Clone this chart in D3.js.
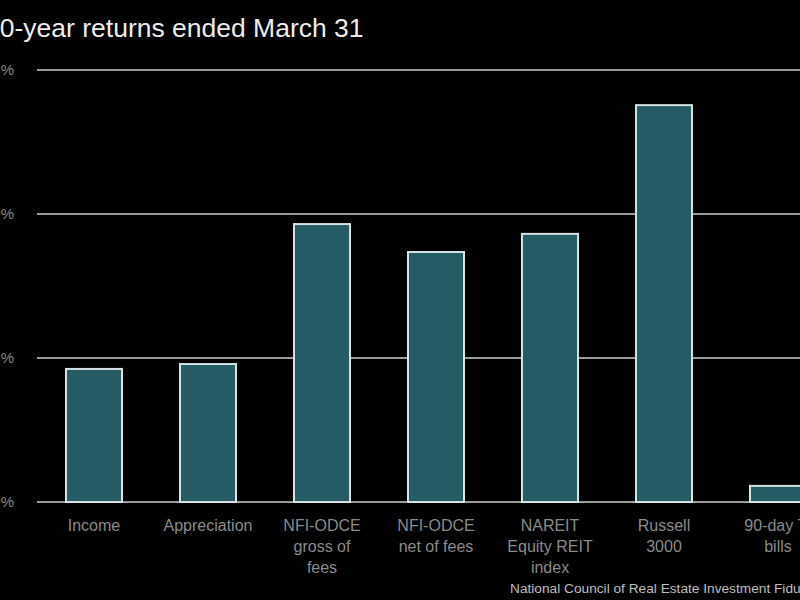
<!DOCTYPE html>
<html><head><meta charset="utf-8">
<script src="https://cdn.jsdelivr.net/npm/d3@7"></script>
<style>body{margin:0;background:#000;}svg{display:block;}</style>
</head><body>
<script>
const title = "10-year returns ended March 31";
const categories = [
  ["Income"],
  ["Appreciation"],
  ["NFI-ODCE", "gross of", "fees"],
  ["NFI-ODCE", "net of fees"],
  ["NAREIT", "Equity REIT", "index"],
  ["Russell", "3000"],
  ["90-day T-", "bills"]
];
const values = [4.62, 4.79, 9.65, 8.68, 9.31, 13.78, 0.56];
const yTicks = [0, 5, 10, 15];
const tickLabels = ["0%", "5%", "10%", "15%"];
const source = "National Council of Real Estate Investment Fiduciaries";

const W = 800, H = 600;
const svg = d3.select("body").append("svg").attr("width", W).attr("height", H)
  .style("font-family", "'Liberation Sans', Arial, sans-serif");
svg.append("rect").attr("width", W).attr("height", H).attr("fill", "#000");

const keys = categories.map((c, i) => "c" + i);
const x = d3.scaleBand().domain(keys).range([37, 835]).paddingInner(0.5088).paddingOuter(0.2544);
const y = d3.scaleLinear().domain([0, 15]).range([502, 70]);

// gridlines
svg.append("g").selectAll("line").data(yTicks).join("line")
  .attr("x1", 37).attr("x2", W)
  .attr("y1", d => y(d)).attr("y2", d => y(d))
  .attr("stroke", "#cfcfcf").attr("stroke-width", 1.5);

// tick labels
svg.append("g").selectAll("text").data(yTicks).join("text")
  .attr("x", 14).attr("y", d => y(d) + 5)
  .attr("text-anchor", "end").attr("fill", "#8a8a8a").attr("font-size", 15)
  .text((d, i) => tickLabels[i]);

// bars
svg.append("g").selectAll("rect").data(values).join("rect")
  .attr("x", (d, i) => x(keys[i]))
  .attr("width", x.bandwidth())
  .attr("y", d => y(d))
  .attr("height", d => y(0) - y(d))
  .attr("fill", "#255b63")
  .attr("stroke", "#d4e2e2").attr("stroke-width", 2);

// category labels
const cl = svg.append("g").selectAll("text").data(categories).join("text")
  .attr("text-anchor", "middle").attr("fill", "#8a8a8a").attr("font-size", 16)
  .attr("x", (d, i) => x(keys[i]) + x.bandwidth() / 2);
cl.selectAll("tspan").data(d => d).join("tspan")
  .attr("x", function() { return d3.select(this.parentNode).attr("x"); })
  .attr("y", (d, j) => 531 + j * 21)
  .text(d => d);

// title
svg.append("text").attr("x", -15).attr("y", 37)
  .attr("fill", "#ececec").attr("font-size", 26.5).text(title);

// source
svg.append("text").attr("x", 510).attr("y", 593)
  .attr("fill", "#bdbdbd").attr("font-size", 13.7).text(source);
</script>
</body></html>
